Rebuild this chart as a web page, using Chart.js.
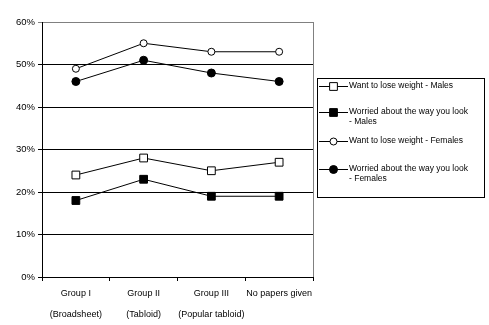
<!DOCTYPE html>
<html>
<head>
<meta charset="utf-8">
<script src="https://cdn.jsdelivr.net/npm/chart.js@4/dist/chart.umd.min.js"></script>
<style>
    html, body { margin: 0; padding: 0; background: #fff; }
</style>
</head>
<body>
<canvas id="papers_chart" width="489" height="325"></canvas>
<script>
// categories and values
const groups = [["Group I", "(Broadsheet)"], ["Group II", "(Tabloid)"], ["Group III", "(Popular tabloid)"], ["No papers given"]];
const loseWeightMales = [24, 28, 25, 27];
const worriedMales = [18, 23, 19, 19];
const loseWeightFemales = [49, 55, 53, 53];
const worriedFemales = [46, 51, 48, 46];
const seriesNames = [
    ["Want to lose weight - Males"],
    ["Worried about the way you look", "- Males"],
    ["Want to lose weight - Females"],
    ["Worried about the way you look", "- Females"]
];
const yMin = 0, yMax = 60, yStep = 10;

const GRAY = "#808080";

let makeSet = (label, data, style, filled, radius) => ({
    label: label,
    data: data,
    borderColor: "#000",
    borderWidth: 1,
    backgroundColor: "#000",
    pointStyle: style,
    pointRadius: radius,
    pointBorderColor: "#000",
    pointBorderWidth: 1,
    pointBackgroundColor: filled ? "#000" : "#fff",
    tension: 0
});

// legend box drawn by hand so the labels can wrap like the original
const boxLegend = {
    id: "boxLegend",
    afterDraw(chart) {
        const ctx = chart.ctx;
        const rows = [86, 112, 141, 169];
        ctx.save();
        ctx.strokeStyle = "#000";
        ctx.lineWidth = 1;
        ctx.strokeRect(317.5, 78.5, 167, 119);
        ctx.font = "8.5px Arial";
        ctx.textBaseline = "middle";
        ctx.textAlign = "left";
        chart.data.datasets.forEach((ds, i) => {
            const y = rows[i] + 0.5;
            ctx.beginPath();
            ctx.moveTo(319, y);
            ctx.lineTo(348, y);
            ctx.stroke();
            ctx.fillStyle = ds.pointBackgroundColor;
            ctx.strokeStyle = "#000";
            Chart.helpers.drawPoint(ctx, {
                pointStyle: ds.pointStyle,
                radius: ds.pointRadius,
                borderWidth: 1,
                rotation: 0
            }, 333.5, y);
            ctx.fillStyle = "#000";
            seriesNames[i].forEach((line, k) => {
                ctx.fillText(line, 349, rows[i] + k * 9.5);
            });
        });
        ctx.restore();
    }
};

// gray right edge of the plot area
const plotEdge = {
    id: "plotEdge",
    beforeDatasetsDraw(chart) {
        const a = chart.chartArea;
        const ctx = chart.ctx;
        ctx.save();
        ctx.strokeStyle = GRAY;
        ctx.lineWidth = 1;
        ctx.beginPath();
        ctx.moveTo(Math.round(a.right) + 0.5, a.top);
        ctx.lineTo(Math.round(a.right) + 0.5, a.bottom);
        ctx.stroke();
        ctx.restore();
    }
};

new Chart("papers_chart", {
    type: "line",
    data: {
        labels: groups,
        datasets: [
            makeSet(seriesNames[0].join(" "), loseWeightMales, "rect", false, 5.5),
            makeSet(seriesNames[1].join(" "), worriedMales, "rect", true, 5.5),
            makeSet(seriesNames[2].join(" "), loseWeightFemales, "circle", false, 3.5),
            makeSet(seriesNames[3].join(" "), worriedFemales, "circle", true, 4)
        ]
    },
    options: {
        responsive: false,
        animation: false,
        events: [],
        layout: { padding: { top: 22, right: 176, left: 0, bottom: 0 } },
        plugins: {
            legend: { display: false },
            tooltip: { enabled: false }
        },
        scales: {
            x: {
                offset: true,
                grid: {
                    offset: true,
                    drawOnChartArea: false,
                    drawTicks: true,
                    tickLength: 4,
                    color: "#000"
                },
                border: { color: "#000", width: 1 },
                ticks: {
                    color: "#000",
                    font: { family: "Arial", size: 9, lineHeight: 2.3 },
                    maxRotation: 0,
                    autoSkip: false,
                    padding: 2
                },
                afterFit: (scale) => { scale.height = 48; }
            },
            y: {
                min: yMin,
                max: yMax,
                grid: {
                    color: (c) => c.tick && c.tick.value === yMax ? GRAY : "#000",
                    drawTicks: true,
                    tickLength: 4
                },
                border: { color: "#000", width: 1 },
                ticks: {
                    stepSize: yStep,
                    color: "#000",
                    font: { family: "Arial", size: 9.5 },
                    padding: 3,
                    callback: (v) => v + "%"
                },
                afterFit: (scale) => { scale.width = 42; }
            }
        }
    },
    plugins: [plotEdge, boxLegend]
});
</script>
</body>
</html>
